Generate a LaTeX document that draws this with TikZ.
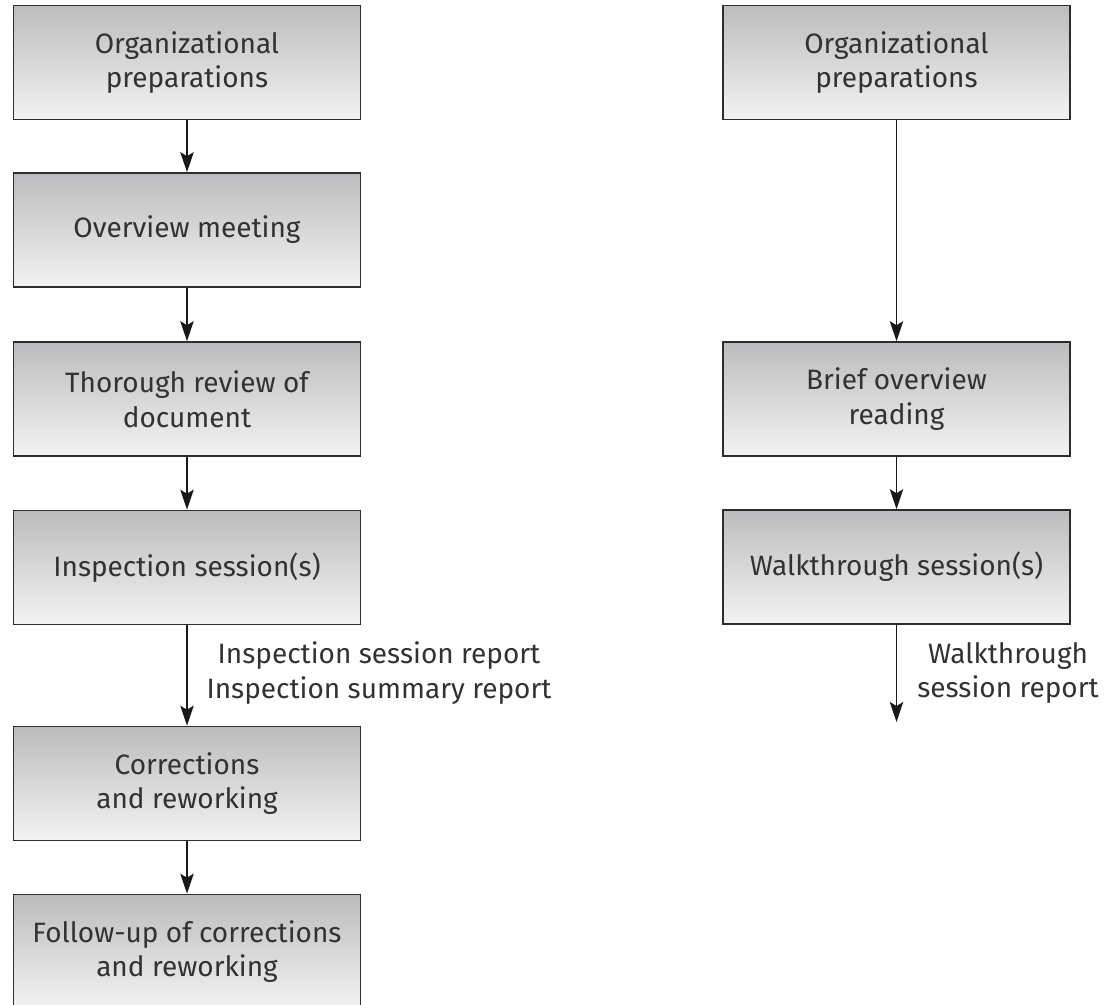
\documentclass[tikz,border=0pt]{standalone}
\usepackage{fontspec}
\setmainfont{Fira Sans}
\usetikzlibrary{arrows.meta}

\definecolor{boxline}{RGB}{45,45,45}
\definecolor{boxtop}{RGB}{188,188,190}
\definecolor{boxbottom}{RGB}{243,243,243}
\definecolor{txtgray}{RGB}{50,50,50}

\tikzset{
  stage/.style={draw=boxline, line width=1.2pt, top color=boxtop, bottom color=boxbottom,
    minimum width=260pt, minimum height=85.5pt, inner sep=0pt, align=center,
    text=txtgray, font=\fontsize{21}{26}\selectfont},
  flow/.style={draw=black!90, line width=1.4pt, -{Stealth[length=15pt,width=10pt,inset=3pt]}},
  report/.style={align=center, inner sep=0pt, text=txtgray, font=\fontsize{21}{26}\selectfont}
}

\begin{document}
\begin{tikzpicture}[x=0.75pt,y=0.75pt,yscale=-1,xscale=1]
\useasboundingbox (0,0) rectangle (1105,1004);

% Inspection (left)
\node [stage] (insOrg) at (187,62.5) {Organizational\\preparations};
\node [stage] (insOverview) at (187,230) {Overview meeting};
\node [stage] (insReview) at (187,399) {Thorough review of\\document};
\node [stage] (insSession) at (187,567.5) {Inspection session(s)};
\node [stage] (insCorr) at (187,783.5) {Corrections\\and reworking};
\node [stage] (insFollow) at (187,951.5) {Follow-up of corrections\\and reworking};

% Walkthrough (right)
\node [stage] (wlkOrg) at (896.5,62.5) {Organizational\\preparations};
\node [stage] (wlkBrief) at (896.5,399) {Brief overview\\reading};
\node [stage] (wlkSession) at (896.5,567) {Walkthrough session(s)};
\coordinate (wlkEnd) at (896.5,722);

% Arrows
\draw [flow] (insOrg) -- (insOverview);
\draw [flow] (insOverview) -- (insReview);
\draw [flow] (insReview) -- (insSession);
\draw [flow] (insSession) -- (insCorr);
\draw [flow] (insCorr) -- (insFollow);
\draw [flow] (wlkOrg) -- (wlkBrief);
\draw [flow] (wlkBrief) -- (wlkSession);
\draw [flow] (wlkSession.south) -- (wlkEnd);

% Text Node
\node [report] (insReport) at (379,673) {Inspection session report\\Inspection summary report};
% Text Node
\node [report] (wlkReport) at (1008,673) {Walkthrough\\session report};

\end{tikzpicture}
\end{document}
